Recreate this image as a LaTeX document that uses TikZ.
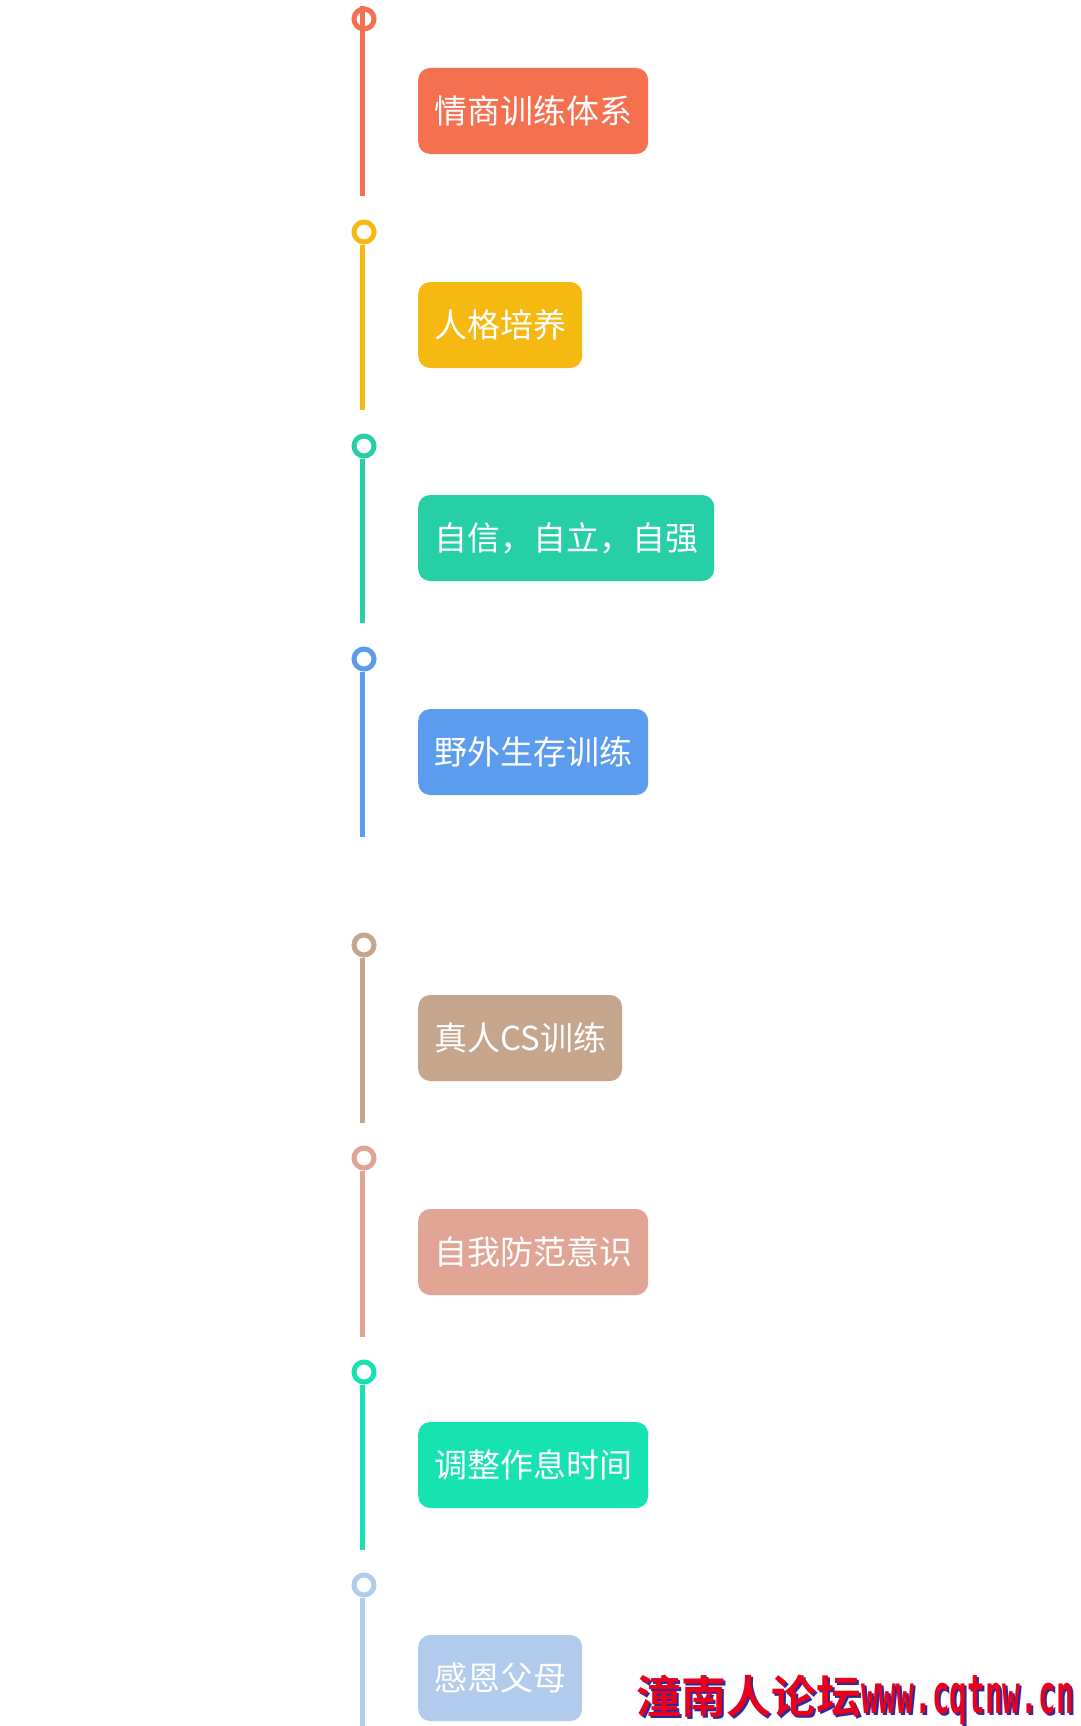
\documentclass[tikz,border=0pt]{standalone}
\usepackage{fontspec}
\usepackage{graphicx}
\newfontfamily\cjk{Noto Sans CJK SC}
\newfontfamily\cjkbold{Noto Sans CJK SC Bold}
\newfontfamily\markmono{DejaVu Sans Mono Bold}
\definecolor{coralred}{HTML}{F4704F}
\definecolor{amber}{HTML}{F6B912}
\definecolor{teal}{HTML}{26CFA6}
\definecolor{skyblue}{HTML}{5B9CEE}
\definecolor{tan}{HTML}{C5A58B}
\definecolor{salmon}{HTML}{E0A595}
\definecolor{aqua}{HTML}{17E2B2}
\definecolor{paleblue}{HTML}{B1CBEC}
\definecolor{markred}{HTML}{E8001C}
\definecolor{markblue}{HTML}{2A2AA0}
\begin{document}
\begin{tikzpicture}[%
        x=1pt,y=-1pt,%
        dot/.style={%
            circle,%
            minimum size=20pt,%
            inner sep=0pt,%
            line width=5pt,%
            draw=#1,%
            fill=white%
        },%
        stem/.style={%
            line width=5pt,%
            draw=#1%
        },%
        card/.style={%
            rounded corners=12pt,%
            anchor=west,%
            minimum height=86pt,%
            inner xsep=16pt,%
            text=white,%
            font=\cjk\fontsize{33pt}{33pt}\selectfont,%
            fill=#1%
        },%
        stamp/.style={%
            anchor=west,%
            inner sep=0pt,%
            font=\cjkbold\fontsize{45pt}{45pt}\selectfont%
        }%
    ]
    \useasboundingbox [fill=white] (0,0) rectangle (1080,1726);
    % timeline dots
    \node (dotA) at (364,  19) [dot=coralred,fill=none]{};
    \node (dotB) at (364, 232) [dot=amber]{};
    \node (dotC) at (364, 446) [dot=teal]{};
    \node (dotD) at (364, 659) [dot=skyblue]{};
    \node (dotE) at (364, 945) [dot=tan]{};
    \node (dotF) at (364,1158) [dot=salmon]{};
    \node (dotG) at (364,1372) [dot=aqua]{};
    \node (dotH) at (364,1585) [dot=paleblue]{};
    \coordinate (endA) at (362, 196);
    \coordinate (endB) at (362, 410);
    \coordinate (endC) at (362, 623);
    \coordinate (endD) at (362, 837);
    \coordinate (endE) at (362,1123);
    \coordinate (endF) at (362,1337);
    \coordinate (endG) at (362,1550);
    \coordinate (endH) at (362,1730);
    \draw [stem=coralred] (dotA.north -| endA) -- (endA);
    \draw [stem=amber] (dotB.south -| endB) -- (endB);
    \draw [stem=teal] (dotC.south -| endC) -- (endC);
    \draw [stem=skyblue] (dotD.south -| endD) -- (endD);
    \draw [stem=tan] (dotE.south -| endE) -- (endE);
    \draw [stem=salmon] (dotF.south -| endF) -- (endF);
    \draw [stem=aqua] (dotG.south -| endG) -- (endG);
    \draw [stem=paleblue] (dotH.south -| endH) -- (endH);
    % cards
    \node (cardA) at (418, 111) [card=coralred]{情商训练体系};
    \node (cardB) at (418, 325) [card=amber]{人格培养};
    \node (cardC) at (418, 538) [card=teal]{自信，自立，自强};
    \node (cardD) at (418, 752) [card=skyblue]{野外生存训练};
    \node (cardE) at (418,1038) [card=tan]{真人CS训练};
    \node (cardF) at (418,1252) [card=salmon]{自我防范意识};
    \node (cardG) at (418,1465) [card=aqua]{调整作息时间};
    \node (cardH) at (418,1678) [card=paleblue]{感恩父母};
    % watermark
    \node (shadow) at (638,1702) [stamp,text=markblue]{潼南人论坛\scalebox{0.545}[1]{\markmono\fontsize{54pt}{54pt}\selectfont www.cqtnw.cn}};
    \node (watermark) at (636,1700) [stamp,text=markred]{潼南人论坛\scalebox{0.545}[1]{\markmono\fontsize{54pt}{54pt}\selectfont www.cqtnw.cn}};
\end{tikzpicture}
\end{document}
